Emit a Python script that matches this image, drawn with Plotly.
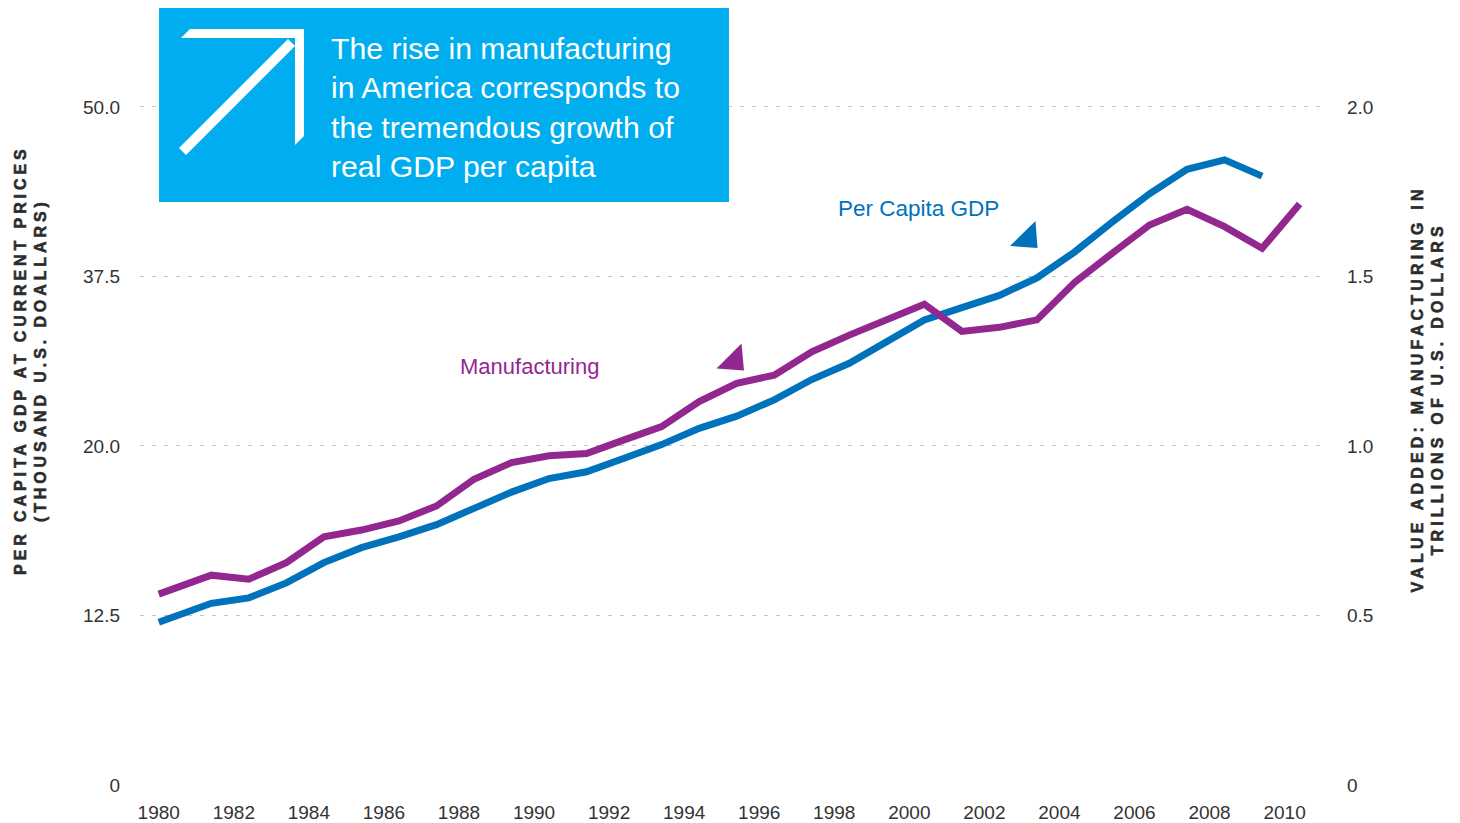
import plotly.graph_objects as go

# ---------------- data ----------------
gdp_x = [1980.0, 1981.4, 1982.4, 1983.4, 1984.4, 1985.4, 1986.4, 1987.4, 1988.4, 1989.4,
         1990.4, 1991.4, 1992.4, 1993.4, 1994.4, 1995.4, 1996.4, 1997.4, 1998.4, 1999.4,
         2000.4, 2001.4, 2002.4, 2003.4, 2004.4, 2005.4, 2006.4, 2007.4, 2008.4, 2009.4]
gdp_per_capita = [12.0, 13.4, 13.8, 14.9, 16.4, 17.5, 18.3, 19.2, 20.4, 21.6,
                  22.6, 23.1, 24.1, 25.1, 26.3, 27.2, 28.4, 29.9, 31.1, 32.7,
                  34.3, 35.2, 36.1, 37.4, 39.3, 41.5, 43.6, 45.4, 46.1, 44.9]

mfg_x = [1980.0, 1981.4, 1982.4, 1983.4, 1984.4, 1985.4, 1986.4, 1987.4, 1988.4, 1989.4,
         1990.4, 1991.4, 1992.4, 1993.4, 1994.4, 1995.4, 1996.4, 1997.4, 1998.4, 1999.4,
         2000.4, 2001.4, 2002.4, 2003.4, 2004.4, 2005.4, 2006.4, 2007.4, 2008.4, 2009.4,
         2010.4]
manufacturing = [0.563, 0.619, 0.607, 0.656, 0.732, 0.752, 0.779, 0.823, 0.902, 0.951,
                 0.971, 0.978, 1.018, 1.057, 1.131, 1.185, 1.209, 1.278, 1.327, 1.372,
                 1.418, 1.338, 1.350, 1.372, 1.482, 1.568, 1.652, 1.698, 1.647, 1.583,
                 1.714]

x_ticks = list(range(1980, 2011, 2))
left_tickvals = [0, 12.5, 25, 37.5, 50]
left_ticktext = ["0", "12.5", "20.0", "37.5", "50.0"]
right_tickvals = [0, 0.5, 1.0, 1.5, 2.0]
right_ticktext = ["0", "0.5", "1.0", "1.5", "2.0"]

callout_lines = ["The rise in manufacturing", "in America corresponds to",
                 "the tremendous growth of", "real GDP per capita"]
left_title = ["PER CAPITA GDP AT CURRENT PRICES", "(THOUSAND U.S. DOALLARS)"]
right_title = ["VALUE ADDED: MANUFACTURING IN", "TRILLIONS OF U.S. DOLLARS"]

# ---------------- styling ----------------
BLUE = "#0072BC"
PURPLE = "#92278F"
BOX = "#00AEEF"
TXT = "#333333"
TITLE = "#2b2b2b"
FONT = "Liberation Sans, Arial, sans-serif"

W, H = 1460, 823
L, R, T, B = 140, 1327, 10, 785


def px(x):
    return (x - L) / (R - L)


def py(y):
    return (B - y) / (B - T)


def poly(points):
    return "M " + " L ".join(f"{px(a):.5f},{py(b):.5f}" for a, b in points) + " Z"


fig = go.Figure()
fig.add_trace(go.Scatter(x=gdp_x, y=gdp_per_capita, mode="lines", name="Per Capita GDP",
                         line=dict(color=BLUE, width=7), yaxis="y", hoverinfo="x+y"))
fig.add_trace(go.Scatter(x=mfg_x, y=manufacturing, mode="lines", name="Manufacturing",
                         line=dict(color=PURPLE, width=7), yaxis="y2", hoverinfo="x+y"))

shapes = [
    # callout box
    dict(type="rect", xref="paper", yref="paper", x0=px(159), x1=px(729), y0=py(202), y1=py(8),
         fillcolor=BOX, line=dict(width=0), layer="above"),
    # white arrow icon
    dict(type="path", xref="paper", yref="paper",
         path=poly([(181, 38), (190, 29), (304, 29), (304, 136), (295, 145), (295, 38)]),
         fillcolor="white", line=dict(width=0), layer="above"),
    dict(type="path", xref="paper", yref="paper",
         path=poly([(179, 148), (288, 39), (295, 46), (186, 155)]),
         fillcolor="white", line=dict(width=0), layer="above"),
    # pointer triangles
    dict(type="path", xref="paper", yref="paper",
         path=poly([(1010, 246), (1035.5, 221), (1037.5, 248)]),
         fillcolor=BLUE, line=dict(width=0), layer="above"),
    dict(type="path", xref="paper", yref="paper",
         path=poly([(716.5, 368.5), (741.5, 343.5), (744, 370.5)]),
         fillcolor=PURPLE, line=dict(width=0), layer="above"),
]


def bold_lines(lines):
    return "<br>".join("<b>" + t + "</b>" for t in lines)


annotations = [
    dict(xref="paper", yref="paper", x=px(329), y=py(107.5), xanchor="left", yanchor="middle",
         text="<br>".join(callout_lines), align="left", showarrow=False,
         font=dict(family=FONT, size=30.2, color="white")),
    dict(xref="paper", yref="paper", x=px(836), y=py(209), xanchor="left", yanchor="middle",
         text="Per Capita GDP", showarrow=False,
         font=dict(family=FONT, size=22.5, color=BLUE)),
    dict(xref="paper", yref="paper", x=px(458), y=py(366), xanchor="left", yanchor="middle",
         text="Manufacturing", showarrow=False,
         font=dict(family=FONT, size=22, color=PURPLE)),
    dict(xref="paper", yref="paper", x=px(30.5), y=py(360), xanchor="center", yanchor="middle",
         text=bold_lines(left_title), textangle=-90, showarrow=False,
         align="center", font=dict(family=FONT, size=16, color=TITLE, weight="bold")),
    dict(xref="paper", yref="paper", x=px(1427.5), y=py(389), xanchor="center", yanchor="middle",
         text=bold_lines(right_title), textangle=-90, showarrow=False,
         align="center", font=dict(family=FONT, size=16, color=TITLE, weight="bold")),
]

fig.update_layout(
    width=W, height=H, autosize=False,
    margin=dict(l=L, r=W - R, t=T, b=H - B, pad=0, autoexpand=False),
    paper_bgcolor="white", plot_bgcolor="white",
    showlegend=False,
    font=dict(family=FONT, size=19, color=TXT),
    xaxis=dict(range=[1979.5, 2011.13], tickvals=x_ticks, showgrid=False, zeroline=False,
               showline=False, ticks="", ticklabelstandoff=14, automargin=False,
               tickfont=dict(family=FONT, size=19, color=TXT)),
    yaxis=dict(range=[0, 57.15], tickvals=left_tickvals, ticktext=left_ticktext,
               showgrid=True, gridcolor="#c4c4c4", gridwidth=1.3, griddash="4px,8px",
               zeroline=False, showline=False, ticks="", ticklabelstandoff=19,
               automargin=False, tickfont=dict(family=FONT, size=19, color=TXT)),
    yaxis2=dict(range=[0, 2.286], tickvals=right_tickvals, ticktext=right_ticktext,
                overlaying="y", side="right", showgrid=False, zeroline=False,
                showline=False, ticks="", ticklabelstandoff=19, automargin=False,
                tickfont=dict(family=FONT, size=19, color=TXT)),
    shapes=shapes,
    annotations=annotations,
)

post = """
document.body.style.margin='0';
document.body.style.overflow='hidden';
function spaceTitles(){
  document.querySelectorAll('text.annotation-text').forEach(function(el){
    var t = el.textContent || '';
    var ls = null;
    if (t.indexOf('PER CAPITA') === 0) { ls = '3.9px'; }
    if (t.indexOf('VALUE ADDED') === 0) { ls = '4.2px'; }
    if (ls === null) { return; }
    el.style.letterSpacing = ls;
    el.style.fontWeight = '700';
    el.style.stroke = '#2b2b2b';
    el.style.strokeWidth = '0.55px';
    el.querySelectorAll('tspan').forEach(function(ts){
      ts.style.fontWeight = '700';
      ts.style.letterSpacing = ls;
    });
  });
}
spaceTitles();
setTimeout(spaceTitles, 50);
setTimeout(spaceTitles, 400);
"""

fig.write_html("out.html", config={"displayModeBar": False}, post_script=post)
